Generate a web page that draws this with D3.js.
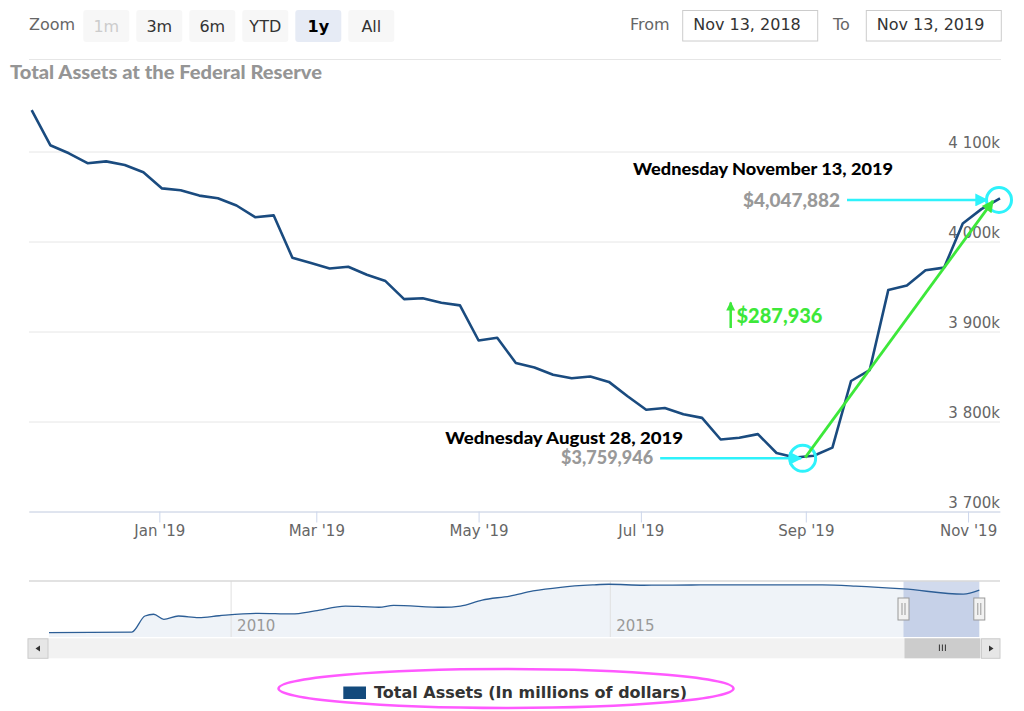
<!DOCTYPE html>
<html>
<head>
<meta charset="utf-8">
<script src="https://cdn.jsdelivr.net/npm/d3@7"></script>
<style>
body { margin: 0; background: #fff; }
text { font-family: "DejaVu Sans", sans-serif; }
.lato { font-family: Lato, "Noto Sans", sans-serif; font-weight: 900; }
</style>
</head>
<body>
<div id="container"></div>
<script>
const width = 1024;
const height = 711;

// weekly (Wednesday) total assets, millions of dollars, starting Nov 14 2018
const firstWeek = "2018-11-14";
const assets = [
  4146000, 4107000, 4098000, 4087000, 4089000, 4085000, 4077000, 4059000, 4057000, 4051000,
  4048000, 4040000, 4027000, 4029000, 3982000, 3976000, 3970000, 3972000, 3963000, 3956000,
  3936000, 3937000, 3932000, 3929000, 3890000, 3893000, 3865000, 3860000, 3852000, 3848000,
  3850000, 3844000, 3828000, 3813000, 3815000, 3808000, 3804000, 3780000, 3782000, 3786000,
  3765000, 3759946, 3762000, 3771000, 3845000, 3857000, 3946000, 3951000, 3968000, 3971000,
  4020000, 4036000, 4047882
];
const yTicks = [3700000, 3800000, 3900000, 4000000, 4100000];
const rangeButtons = ["1m", "3m", "6m", "YTD", "1y", "All"];
const fromDate = "Nov 13, 2018";
const toDate = "Nov 13, 2019";
const lowDate = "2019-08-28";
const highDate = "2019-11-13";

// navigator: whole history, millions of dollars
const navDates = ["2007-08-08","2008-09-10","2008-11-12","2008-12-24","2009-02-11","2009-04-22",
  "2009-07-29","2009-11-04","2010-05-12","2010-10-20","2011-02-09","2011-07-06","2011-10-05",
  "2011-12-14","2012-02-22","2012-10-17","2013-01-09","2013-04-24","2013-09-04","2013-12-25",
  "2014-05-07","2014-10-08","2014-12-24","2015-06-10","2016-03-09","2017-10-18","2018-03-28",
  "2018-11-14","2019-08-28","2019-11-13"];
const navValues = [941000, 990000, 2160000, 2290000, 1920000, 2160000, 2040000, 2180000, 2360000,
  2310000, 2530000, 2890000, 2840000, 2800000, 2940000, 2800000, 2890000, 3330000, 3620000,
  3990000, 4260000, 4430000, 4480000, 4410000, 4430000, 4430000, 4350000, 4140000, 3760000, 4050000];

const parse = d3.timeParse("%Y-%m-%d");
const weekDates = assets.map((d, i) => d3.timeDay.offset(parse(firstWeek), i * 7));
const series = assets.map((v, i) => ({date: weekDates[i], value: v}));
const navSeries = navValues.map((v, i) => ({date: parse(navDates[i]), value: v}));

const svg = d3.select("#container").append("svg")
  .attr("width", width).attr("height", height);

const defs = svg.append("defs");
function marker(id, color, w, h) {
  defs.append("marker").attr("id", id)
    .attr("viewBox", "0 0 10 10").attr("refX", 9).attr("refY", 5)
    .attr("markerUnits", "userSpaceOnUse")
    .attr("markerWidth", w).attr("markerHeight", h).attr("orient", "auto")
    .append("path").attr("d", "M0,0L10,5L0,10Z").attr("fill", color);
}
const cyan = "#2ef2fb";
const green = "#3de83a";
marker("cyanHead", cyan, 15, 13);
marker("greenHead", green, 15, 12);
marker("greenSmall", green, 11, 9);

//---------------------------TOOLBAR---------------------------//
svg.append("text").attr("x", 29).attr("y", 30).attr("fill", "#666")
  .style("font-size", "16px").text("Zoom");

const btn = svg.selectAll(".btn").data(rangeButtons).enter().append("g")
  .attr("transform", (d, i) => "translate(" + (83.3 + i * 53) + ",10)");
btn.append("rect").attr("width", 46).attr("height", 32).attr("rx", 3)
  .attr("fill", d => d == "1y" ? "#e6ebf5" : "#f7f7f7");
btn.append("text").attr("x", 23).attr("y", 21.5).attr("text-anchor", "middle")
  .style("font-size", "16px")
  .style("font-weight", d => d == "1y" ? "bold" : "normal")
  .attr("fill", d => d == "1m" ? "#cccccc" : (d == "1y" ? "#000" : "#333"))
  .text(d => d);

svg.append("text").attr("x", 630).attr("y", 30).attr("fill", "#666")
  .style("font-size", "16px").text("From");
svg.append("text").attr("x", 833).attr("y", 30).attr("fill", "#666")
  .style("font-size", "16px").text("To");
[[682.7, fromDate], [866.3, toDate]].forEach(function(b) {
  svg.append("rect").attr("x", b[0]).attr("y", 10.5).attr("width", 135).attr("height", 30.5)
    .attr("fill", "#fff").attr("stroke", "#cccccc");
  svg.append("text").attr("x", b[0] + 10.5).attr("y", 30).attr("fill", "#333")
    .style("font-size", "16px").text(b[1]);
});
svg.append("line").attr("x1", 29).attr("x2", 1001).attr("y1", 59.5).attr("y2", 59.5)
  .attr("stroke", "#e6e6e6");

svg.append("text").attr("class", "lato").attr("x", 10).attr("y", 79)
  .attr("fill", "#959595").style("font-size", "18px")
  .attr("textLength", 312).attr("lengthAdjust", "spacingAndGlyphs")
  .text("Total Assets at the Federal Reserve");

//----------------------------SCALES----------------------------//
const x = d3.scaleTime().domain([parse("2018-11-13"), parse("2019-11-13")]).range([29, 1000]);
const y = d3.scaleLinear().domain([3700000, 4100000]).range([511.5, 151.5]);
const spaced = d3.formatLocale({decimal: ".", thousands: " ", grouping: [3], currency: ["$", ""]});
const money = d3.formatLocale({decimal: ".", thousands: ",", grouping: [3], currency: ["$", ""]}).format("$,");

//-----------------------------AXES-----------------------------//
const yAxis = svg.append("g").attr("transform", "translate(1000,0)")
  .call(d3.axisLeft(y).tickValues(yTicks).tickSize(971)
    .tickFormat(d => spaced.format(",")(d / 1000) + "k"));
yAxis.select(".domain").remove();
yAxis.selectAll("line").attr("stroke", "#e6e6e6");
yAxis.selectAll("text").attr("x", 0).attr("dy", null).attr("y", -4)
  .attr("fill", "#666").style("font-size", "15px").style("font-family", "DejaVu Sans");

const xAxis = svg.append("g").attr("transform", "translate(0,511.5)")
  .call(d3.axisBottom(x).ticks(d3.timeMonth.every(2)).tickFormat(d3.timeFormat("%b '%y"))
    .tickSize(11).tickSizeOuter(0).tickPadding(3));
xAxis.select(".domain").attr("stroke", "#ccd6eb");
xAxis.selectAll("line").attr("stroke", "#ccd6eb");
xAxis.selectAll("text").attr("fill", "#666").style("font-size", "15px")
  .style("font-family", "DejaVu Sans");

//----------------------------LINE------------------------------//
const line = d3.line().x(d => x(d.date)).y(d => y(d.value));
svg.append("path").datum(series).attr("d", line)
  .attr("fill", "none").attr("stroke", "#1a4b7f").attr("stroke-width", 2.6)
  .attr("stroke-linejoin", "round");

//-------------------------ANNOTATIONS--------------------------//
const low = series.find(d => +d.date == +parse(lowDate));
const high = series.find(d => +d.date == +parse(highDate));
const lx = x(low.date), ly = y(low.value);
const hx = x(high.date), hy = y(high.value);

svg.append("text").attr("class", "lato").attr("x", lx - 350).attr("y", ly - 14)
  .attr("fill", "#000").style("font-size", "17.5px")
  .attr("textLength", 238).attr("lengthAdjust", "spacingAndGlyphs")
  .text("Wednesday " + d3.timeFormat("%B %-d, %Y")(low.date));
svg.append("text").attr("class", "lato").attr("x", lx - 142).attr("y", ly + 6.5)
  .attr("text-anchor", "end").attr("fill", "#999").style("font-size", "18px")
  .text(money(low.value));
svg.append("line").attr("x1", lx - 135).attr("y1", ly + 0.8).attr("x2", lx + 6).attr("y2", ly + 0.8)
  .attr("stroke", cyan).attr("stroke-width", 2.5).attr("marker-end", "url(#cyanHead)");
svg.append("circle").attr("cx", lx + 7.5).attr("cy", ly + 0.8).attr("r", 13)
  .attr("fill", "none").attr("stroke", cyan).attr("stroke-width", 3);

svg.append("text").attr("class", "lato").attr("x", hx - 367).attr("y", hy - 23)
  .attr("fill", "#000").style("font-size", "17.5px")
  .attr("textLength", 260).attr("lengthAdjust", "spacingAndGlyphs")
  .text("Wednesday " + d3.timeFormat("%B %-d, %Y")(high.date));
svg.append("text").attr("class", "lato").attr("x", hx - 257).attr("y", hy + 8.5)
  .attr("fill", "#999").style("font-size", "18px")
  .attr("textLength", 97).attr("lengthAdjust", "spacingAndGlyphs")
  .text(money(high.value));
svg.append("line").attr("x1", hx - 153).attr("y1", hy + 1.5).attr("x2", hx - 13).attr("y2", hy + 1.5)
  .attr("stroke", cyan).attr("stroke-width", 2.5).attr("marker-end", "url(#cyanHead)");
svg.append("circle").attr("cx", hx - 1).attr("cy", hy + 1.5).attr("r", 12.5)
  .attr("fill", "none").attr("stroke", cyan).attr("stroke-width", 3);

svg.append("line").attr("x1", lx + 10).attr("y1", ly).attr("x2", hx - 7).attr("y2", hy + 2.5)
  .attr("stroke", green).attr("stroke-width", 2.8).attr("marker-end", "url(#greenHead)");
svg.append("line").attr("x1", 730.7).attr("y1", 328).attr("x2", 730.7).attr("y2", 302.5)
  .attr("stroke", green).attr("stroke-width", 2.5).attr("marker-end", "url(#greenSmall)");
svg.append("text").attr("class", "lato").attr("x", 736.5).attr("y", 322.5)
  .attr("fill", green).style("font-size", "20px")
  .text(money(high.value - low.value));

//--------------------------NAVIGATOR---------------------------//
const nx = d3.scaleTime().domain(d3.extent(navSeries, d => d.date)).range([49, 979.3]);
const ny = d3.scaleLinear().domain([700000, 4500000]).range([636, 584]);

svg.append("path").datum(navSeries)
  .attr("d", d3.area().x(d => nx(d.date)).y0(637).y1(d => ny(d.value)))
  .attr("fill", "#eff3f8");

nx.ticks(d3.timeYear.every(5)).forEach(function(t) {
  svg.append("line").attr("x1", nx(t)).attr("x2", nx(t)).attr("y1", 581).attr("y2", 637)
    .attr("stroke", "#e0e0e0");
  svg.append("text").attr("x", nx(t) + 6).attr("y", 631).attr("fill", "#999")
    .style("font-size", "15px").text(d3.timeFormat("%Y")(t));
});

const selA = nx(x.domain()[0]), selB = nx(x.domain()[1]);
svg.append("rect").attr("x", selA).attr("y", 581).attr("width", selB - selA).attr("height", 56)
  .attr("fill", "rgba(102,133,194,0.3)");

svg.append("path").datum(navSeries)
  .attr("d", d3.line().x(d => nx(d.date)).y(d => ny(d.value)).curve(d3.curveMonotoneX))
  .attr("fill", "none").attr("stroke", "#2c5e96").attr("stroke-width", 1.3);

svg.append("line").attr("x1", 29).attr("x2", 1000).attr("y1", 581).attr("y2", 581)
  .attr("stroke", "#d9d9d9").attr("stroke-width", 1.5);

[selA, selB].forEach(function(hxp) {
  const g = svg.append("g").attr("transform", "translate(" + (hxp - 5.5) + ",598)");
  g.append("rect").attr("width", 11).attr("height", 22).attr("fill", "#f2f2f2")
    .attr("stroke", "#999").attr("stroke-width", 1);
  g.append("path").attr("d", "M4,5V17M7,5V17").attr("stroke", "#999").attr("stroke-width", 1);
});

// scrollbar
svg.append("rect").attr("x", 27.7).attr("y", 638.3).attr("width", 972.3).attr("height", 20)
  .attr("fill", "#f2f2f2");
svg.append("rect").attr("x", selA + 1).attr("y", 638.3).attr("width", selB - selA).attr("height", 20)
  .attr("fill", "#cccccc");
svg.append("path").attr("d", function() {
  const c = (selA + selB) / 2 + 1;
  return "M" + (c - 3) + ",644.5V651M" + c + ",644.5V651M" + (c + 3) + ",644.5V651";
}).attr("stroke", "#333").attr("stroke-width", 1);
svg.append("rect").attr("x", 28).attr("y", 638.8).attr("width", 20).attr("height", 19.5)
  .attr("fill", "#e6e6e6").attr("stroke", "#cccccc");
svg.append("path").attr("d", "M35.5,648.5L40,645.5V651.5Z").attr("fill", "#333");
svg.append("rect").attr("x", 981.5).attr("y", 638.8).attr("width", 18.5).attr("height", 19.5)
  .attr("fill", "#e6e6e6").attr("stroke", "#cccccc");
svg.append("path").attr("d", "M993.5,648.5L989,645.5V651.5Z").attr("fill", "#333");

//----------------------------LEGEND----------------------------//
svg.append("rect").attr("x", 343.3).attr("y", 686.5).attr("width", 22.7).attr("height", 12.5)
  .attr("fill", "#134a7c");
svg.append("text").attr("x", 374).attr("y", 698).attr("fill", "#333")
  .style("font-size", "16px").style("font-weight", "bold")
  .text("Total Assets (In millions of dollars)");
svg.append("ellipse").attr("cx", 506).attr("cy", 688.5).attr("rx", 227.5).attr("ry", 19.5)
  .attr("fill", "none").attr("stroke", "#ff59ff").attr("stroke-width", 2.5);
</script>
</body>
</html>
